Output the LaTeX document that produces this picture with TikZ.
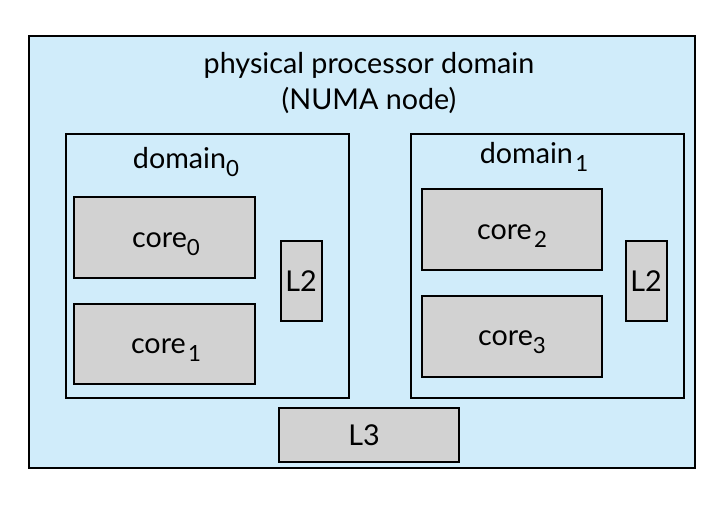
\documentclass[tikz,border=0pt]{standalone}
\usepackage{fontspec}
\setmainfont{Lato}
\newcommand{\mysub}[1]{\raisebox{-0.55ex}{\fontsize{19}{22}\selectfont #1}}
\begin{document}
\begin{tikzpicture}[x=0.03cm,y=-0.03cm,
  box/.style={draw=black,line width=1.2pt},
  dom/.style={box,fill=none},
  core/.style={box,fill=gray!35},
  lbl/.style={font=\fontsize{24.5}{28}\selectfont,inner sep=0pt}]
\useasboundingbox (0,0) rectangle (725,511);
\draw[box,fill={rgb,255:red,208;green,236;blue,250}] (29,36) rectangle (695,468);
\node[lbl,align=center] (t) at (369,83) {physical processor domain\\[3pt](NUMA node)};
\draw[dom] (66,134) rectangle (349,398);
\node[lbl] (d0) at (186,162) {domain\mysub{0}};
\draw[core] (74,197) rectangle (255,278); \node[lbl] (c0) at (166,244) {core\mysub{0}};
\draw[core] (74,304) rectangle (255,384); \node[lbl] (c1) at (166,350) {core\kern2pt\mysub{1}};
\draw[core] (281,241) rectangle (322,321); \node[lbl] (l2a) at (301,281) {L2};
\draw[dom] (411,134) rectangle (684,398);
\node[lbl] (d1) at (534,157) {domain\kern2pt\mysub{1}};
\draw[core] (422,189) rectangle (602,270); \node[lbl] (c2) at (512,236) {core\kern2pt\mysub{2}};
\draw[core] (422,296) rectangle (602,377); \node[lbl] (c3) at (512,342) {core\mysub{3}};
\draw[core] (626,241) rectangle (667,321); \node[lbl] (l2b) at (646,281) {L2};
\draw[core] (279,408) rectangle (459,462); \node[lbl] (l3) at (364,435) {L3};
\end{tikzpicture}
\end{document}
